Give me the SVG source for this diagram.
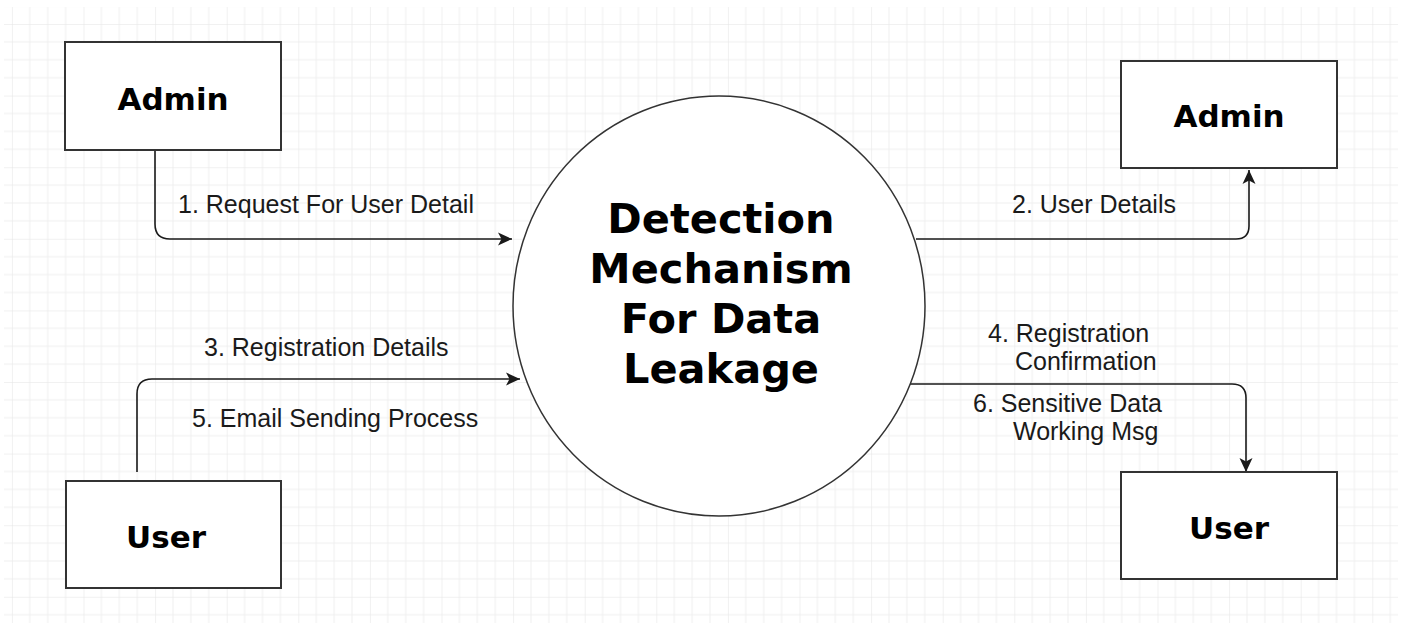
<svg xmlns="http://www.w3.org/2000/svg" width="1403" height="628" viewBox="0 0 1403 628">
  <style>
    .box { fill: #ffffff; stroke: #333333; stroke-width: 2; }
    .proc { fill: #ffffff; stroke: #333333; stroke-width: 1.5; }
    .ent { font-family: "DejaVu Sans", Verdana, sans-serif; font-weight: bold; font-size: 31px; fill: #000000; text-anchor: middle; }
    .ptxt { font-family: "DejaVu Sans", Verdana, sans-serif; font-weight: bold; font-size: 41.5px; fill: #000000; text-anchor: middle; }
    .lbl { font-family: "Liberation Sans", Arial, sans-serif; font-size: 25px; fill: #1a1a1a; }
    .edge { fill: none; stroke: #1a1a1a; stroke-width: 1.6; }
  </style>
  <defs>
    <pattern id="grid" patternUnits="userSpaceOnUse" x="11.9" y="24" width="71.6" height="71.6">
      <path d="M17.9 0V71.6M35.8 0V71.6M53.7 0V71.6M0 17.9H71.6M0 35.8H71.6M0 53.7H71.6" stroke="#efefef" stroke-width="1" fill="none"/>
      <path d="M0 0V71.6M0 0H71.6" stroke="#e4e4e4" stroke-width="1" fill="none"/>
    </pattern>
    <marker id="arr" viewBox="0 0 15 15" refX="14" refY="7.5" markerWidth="15" markerHeight="15" markerUnits="userSpaceOnUse" orient="auto">
      <path d="M0 1L14 7.5L0 14L3.5 7.5Z" fill="#1a1a1a"/>
    </marker>
  </defs>
  <rect x="0" y="0" width="1403" height="628" fill="#ffffff"/>
  <rect x="4" y="7" width="1394" height="616" fill="url(#grid)"/>

  <g id="connectors">
    <path class="edge" d="M155 150V224Q155 239 170 239H512" marker-end="url(#arr)"/>
    <path class="edge" d="M916 239H1236Q1249 239 1249 226V170" marker-end="url(#arr)"/>
    <path class="edge" d="M137 472V394Q137 379 152 379H520" marker-end="url(#arr)"/>
    <path class="edge" d="M908 384H1232Q1246 384 1246 398V472" marker-end="url(#arr)"/>
  </g>

  <g id="labels">
    <text class="lbl" x="178" y="213">1. Request For User Detail</text>
    <text class="lbl" x="1012" y="213">2. User Details</text>
    <text class="lbl" x="204" y="356">3. Registration Details</text>
    <text class="lbl" x="192" y="427">5. Email Sending Process</text>
    <text class="lbl" x="988" y="342">4. Registration</text>
    <text class="lbl" x="1015" y="370">Confirmation</text>
    <text class="lbl" x="973" y="412">6. Sensitive Data</text>
    <text class="lbl" x="1013" y="440">Working Msg</text>
  </g>

  <g id="admin-left">
    <rect class="box" x="65" y="42" width="216" height="108"/>
    <text class="ent" x="173" y="110">Admin</text>
  </g>
  <g id="admin-right">
    <rect class="box" x="1121" y="61" width="216" height="107"/>
    <text class="ent" x="1229" y="127">Admin</text>
  </g>
  <g id="user-left">
    <rect class="box" x="66" y="481" width="215" height="107"/>
    <text class="ent" x="166" y="548">User</text>
  </g>
  <g id="user-right">
    <rect class="box" x="1121" y="472" width="216" height="107"/>
    <text class="ent" x="1229" y="539">User</text>
  </g>
  <g id="process">
    <ellipse class="proc" cx="719" cy="306" rx="206" ry="210"/>
    <text class="ptxt" x="721" y="233">Detection</text>
    <text class="ptxt" x="721" y="283">Mechanism</text>
    <text class="ptxt" x="721" y="333">For Data</text>
    <text class="ptxt" x="721" y="383">Leakage</text>
  </g>
</svg>
